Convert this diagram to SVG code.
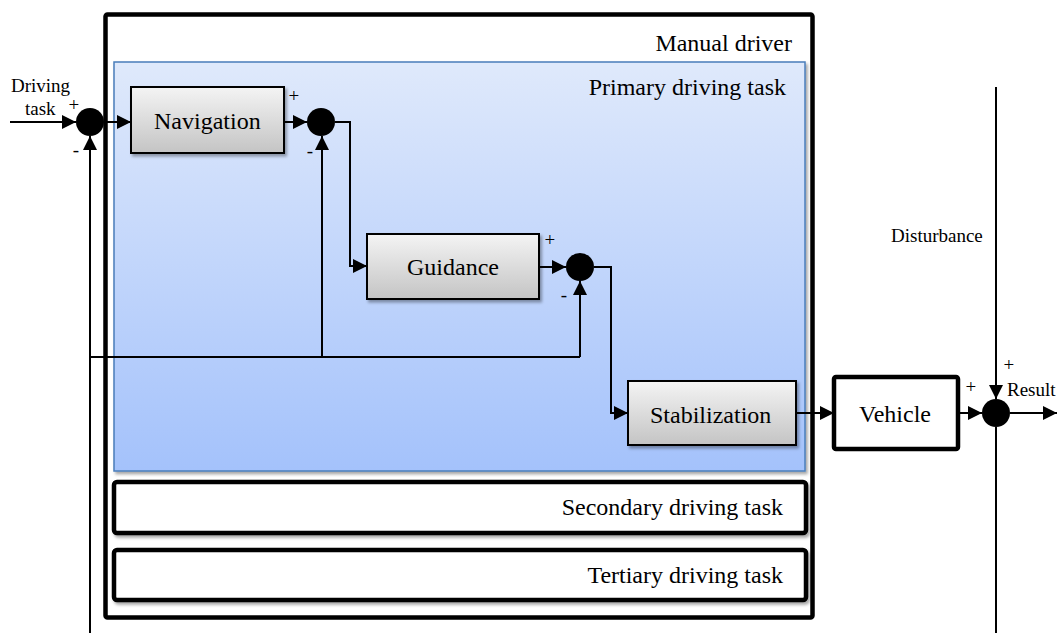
<svg xmlns="http://www.w3.org/2000/svg" width="1061" height="633" viewBox="0 0 1061 633">
<defs>
<linearGradient id="gBlue" x1="0" y1="0" x2="0" y2="1">
<stop offset="0" stop-color="#dfe9fb"/>
<stop offset="1" stop-color="#a4c2fb"/>
</linearGradient>
<linearGradient id="gGray" x1="0" y1="0" x2="0" y2="1">
<stop offset="0" stop-color="#f4f4f4"/>
<stop offset="1" stop-color="#c4c4c4"/>
</linearGradient>
<filter id="sh" x="-5%" y="-5%" width="115%" height="125%">
<feDropShadow dx="2" dy="2.5" stdDeviation="1.5" flood-color="#000" flood-opacity="0.35"/>
</filter>
<marker id="arr" markerUnits="userSpaceOnUse" markerWidth="16" markerHeight="14" refX="14" refY="7" orient="auto">
<path d="M0,0 L14,7 L0,14 Z" fill="#000"/>
</marker>
</defs>
<style>
text{font-family:"Liberation Serif","Times New Roman",serif;fill:#000}
.lbl{font-size:24px}
.sm{font-size:19px}
.blk{fill:#fff;stroke:#000;stroke-width:4.5}
.gry{fill:url(#gGray);stroke:#000;stroke-width:2}
.wire{fill:none;stroke:#000;stroke-width:2}
.arw{marker-end:url(#arr)}
.sum{fill:#000}
</style>

<g id="manual-driver">
<rect class="blk" x="105.5" y="14.5" width="707" height="603" rx="2"/>
<text class="lbl" x="792" y="51" text-anchor="end">Manual driver</text>
</g>

<g id="primary-driving-task">
<rect x="114" y="62" width="691" height="409" fill="url(#gBlue)" stroke="#4a7ebb" stroke-width="1.5" filter="url(#sh)"/>
<text class="lbl" x="786" y="95" text-anchor="end" font-size="24.5">Primary driving task</text>
</g>

<g id="secondary-driving-task">
<rect class="blk" x="114" y="482" width="692" height="51" rx="3" filter="url(#sh)"/>
<text class="lbl" x="783" y="515" text-anchor="end">Secondary driving task</text>
</g>

<g id="tertiary-driving-task">
<rect class="blk" x="114" y="550" width="692" height="50" rx="3" filter="url(#sh)"/>
<text class="lbl" x="783" y="583" text-anchor="end">Tertiary driving task</text>
</g>

<g id="connectors">
<path class="wire arw" d="M10,122 H76"/>
<path class="wire arw" d="M104,122 H131"/>
<path class="wire arw" d="M284,122 H307"/>
<path class="wire arw" d="M335,122 H350 V266 H367"/>
<path class="wire arw" d="M539,267 H566"/>
<path class="wire arw" d="M594,267 H611 V413 H628"/>
<path class="wire arw" d="M796,413 H834"/>
<path class="wire arw" d="M958,413 H982"/>
<path class="wire arw" d="M1010,413 H1057"/>
<path class="wire arw" d="M996,87 V399"/>
<path class="wire" d="M996,427 V633"/>
<path class="wire arw" d="M90,633 V136"/>
<path class="wire" d="M90,357 H580"/>
<path class="wire arw" d="M322,357 V136"/>
<path class="wire arw" d="M580,357 V281"/>
</g>

<g id="sum-1">
<circle class="sum" cx="90" cy="122" r="14"/>
<text class="sm" x="68.6" y="111">+</text>
<text class="sm" x="72.8" y="156">-</text>
</g>

<g id="driving-task-input">
<text class="sm" x="11" y="92">Driving</text>
<text class="sm" x="25" y="115">task</text>
</g>

<g id="navigation">
<rect class="gry" x="131" y="87" width="153" height="66" filter="url(#sh)"/>
<text class="lbl" x="154" y="129">Navigation</text>
</g>

<g id="sum-2">
<circle class="sum" cx="321" cy="122" r="14"/>
<text class="sm" x="288.6" y="102">+</text>
<text class="sm" x="306.8" y="157">-</text>
</g>

<g id="guidance">
<rect class="gry" x="367" y="234" width="172" height="65" filter="url(#sh)"/>
<text class="lbl" x="407" y="275">Guidance</text>
</g>

<g id="sum-3">
<circle class="sum" cx="580" cy="267" r="14"/>
<text class="sm" x="544.6" y="246">+</text>
<text class="sm" x="560.8" y="301">-</text>
</g>

<g id="stabilization">
<rect class="gry" x="628" y="381" width="168" height="64" filter="url(#sh)"/>
<text class="lbl" x="650" y="423">Stabilization</text>
</g>

<g id="vehicle">
<rect class="blk" x="834" y="377" width="124" height="72" rx="2"/>
<text class="lbl" x="859" y="422">Vehicle</text>
</g>

<g id="sum-4">
<circle class="sum" cx="996" cy="413" r="14"/>
<text class="sm" x="965.6" y="393">+</text>
<text class="sm" x="1003.6" y="371">+</text>
</g>

<g id="disturbance-label">
<text class="sm" x="891" y="242">Disturbance</text>
</g>

<g id="result-label">
<text class="sm" x="1007" y="396">Result</text>
</g>
</svg>
